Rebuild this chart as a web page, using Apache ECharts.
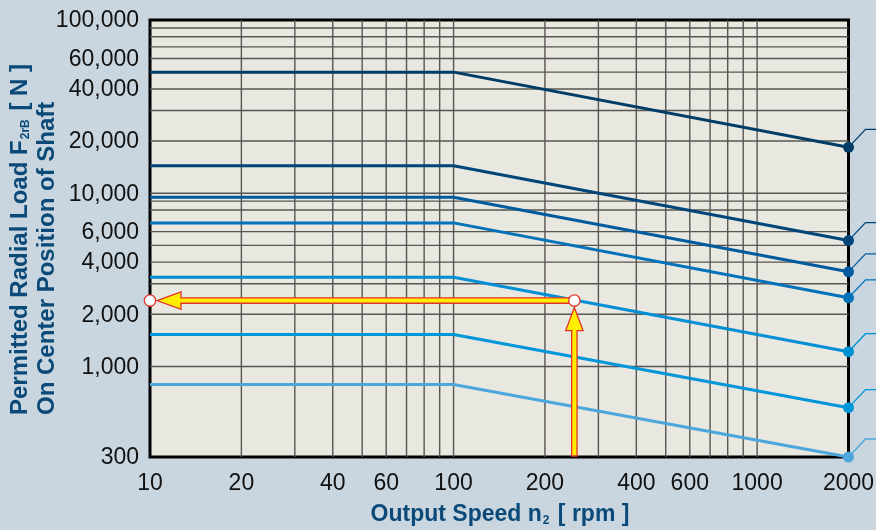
<!DOCTYPE html>
<html><head><meta charset="utf-8">
<script src="https://cdn.jsdelivr.net/npm/echarts@6/dist/echarts.min.js"></script>
<style>html,body{margin:0;padding:0;background:#c9d6e0}#c{width:876px;height:530px}</style>
</head><body><div id="c"></div>
<script>
// ---- data ----
const speeds = [10, 100, 2000];                       // rpm break points
const loadConstant = [50000, 14400, 9470, 6740, 3275, 1529, 787]; // N, 10..100 rpm
const loadAt2000 = [18400, 5328, 3516, 2490, 1216, 578, 300];     // N at 2000 rpm
const xTickValues = [10, 20, 40, 60, 100, 200, 400, 600, 1000, 2000];
const xTickLabels = ['10', '20', '40', '60', '100', '200', '400', '600', '1000', '2000'];
const yTickValues = [100000, 60000, 40000, 20000, 10000, 6000, 4000, 2000, 1000, 300];
const yTickLabels = ['100,000', '60,000', '40,000', '20,000', '10,000', '6,000', '4,000', '2,000', '1,000', '300'];
const xGridValues = [20, 30, 40, 50, 60, 70, 80, 90, 100, 200, 300, 400, 500, 600, 700, 800, 900, 1000];
const yGridValues = [1000, 2000, 3000, 4000, 5000, 6000, 8000, 9000, 10000, 20000, 30000, 40000, 50000, 60000, 70000, 80000, 90000];
const exampleSpeed = 250;
const exampleLoad = 2400;

// ---- styles ----
const lineColors = ['#003d66', '#00467a', '#005c9e', '#0072b9', '#008fd4', '#0096da', '#4ca7dc'];
const FONT = '"Liberation Sans", Arial, Helvetica, sans-serif';
const TITLE_COLOR = '#0b4a78';
const X_MIN = 10, X_MAX = 2000, Y_MIN = 300, Y_MAX = 100000;

const chart = echarts.init(document.getElementById('c'));

const gridSeries = {
  type: 'custom', z: 1, silent: true, clip: false, animation: false,
  data: xGridValues.map(v => [v, Y_MIN, 0]).concat(yGridValues.map(v => [X_MIN, v, 1])),
  renderItem(params, api) {
    let a, b;
    if (api.value(2) === 0) { a = api.coord([api.value(0), Y_MIN]); b = api.coord([api.value(0), Y_MAX]); }
    else { a = api.coord([X_MIN, api.value(1)]); b = api.coord([X_MAX, api.value(1)]); }
    return { type: 'line', shape: { x1: a[0], y1: a[1], x2: b[0], y2: b[1] }, style: { stroke: '#585652', lineWidth: 1.4 } };
  }
};

const labelSeries = {
  type: 'custom', z: 6, silent: true, clip: false, animation: false,
  data: xTickValues.map((v, i) => [v, Y_MIN, 0, i]).concat(yTickValues.map((v, i) => [X_MIN, v, 1, i])),
  renderItem(params, api) {
    const kind = api.value(2), i = api.value(3);
    const c = api.coord([api.value(0), api.value(1)]);
    if (kind === 0) {
      return { type: 'text', x: c[0], y: c[1] + 27, style: { text: xTickLabels[i], font: '23px ' + FONT, fill: '#111', align: 'center', verticalAlign: 'middle' } };
    }
    return { type: 'text', x: c[0] - 11, y: c[1] + 1, style: { text: yTickLabels[i], font: '23px ' + FONT, fill: '#111', align: 'right', verticalAlign: 'middle' } };
  }
};

const leaderSeries = {
  type: 'custom', z: 2, silent: true, clip: false, animation: false,
  data: loadAt2000.map((v, i) => [speeds[2], v, i]),
  renderItem(params, api) {
    const c = api.coord([api.value(0), api.value(1)]);
    const i = api.value(2);
    return { type: 'polyline', shape: { points: [[c[0], c[1]], [c[0] + 17, c[1] - 18], [c[0] + 40, c[1] - 18]] },
      style: { stroke: lineColors[i], lineWidth: 1.3, fill: null } };
  }
};

const lineSeries = loadConstant.map((v, i) => ({
  type: 'line', z: 3, silent: true, animation: false, clip: false,
  symbol: 'circle', symbolSize: 11,
  lineStyle: { color: lineColors[i], width: 3 },
  itemStyle: { color: lineColors[i] },
  data: [
    { value: [speeds[0], v], symbol: 'none' },
    { value: [speeds[1], v], symbol: 'none' },
    { value: [speeds[2], loadAt2000[i]] }
  ]
}));

const arrowSeries = {
  type: 'custom', z: 5, silent: true, clip: false, animation: false,
  data: [[exampleSpeed, exampleLoad]],
  renderItem(params, api) {
    const p = api.coord([api.value(0), api.value(1)]);
    const l = api.coord([X_MIN, api.value(1)]);
    const b = api.coord([api.value(0), Y_MIN]);
    const red = '#e2332a', yellow = '#ffee00';
    const hw = 2.7, ah = 8.7;
    const vArrow = [[p[0], p[1] + 7], [p[0] + ah, p[1] + 30], [p[0] + hw, p[1] + 30], [p[0] + hw, b[1] - 1], [p[0] - hw, b[1] - 1], [p[0] - hw, p[1] + 30], [p[0] - ah, p[1] + 30]];
    const hArrow = [[l[0] + 7, p[1]], [l[0] + 31, p[1] - ah], [l[0] + 31, p[1] - hw], [p[0] - 4, p[1] - hw], [p[0] - 4, p[1] + hw], [l[0] + 31, p[1] + hw], [l[0] + 31, p[1] + ah]];
    return { type: 'group', children: [
      { type: 'polygon', shape: { points: vArrow }, style: { fill: yellow, stroke: red, lineWidth: 1.3 } },
      { type: 'polygon', shape: { points: hArrow }, style: { fill: yellow, stroke: red, lineWidth: 1.3 } },
      { type: 'circle', shape: { cx: p[0], cy: p[1], r: 5.7 }, style: { fill: '#fff', stroke: red, lineWidth: 1.3 } },
      { type: 'circle', shape: { cx: l[0], cy: p[1], r: 5.7 }, style: { fill: '#fff', stroke: red, lineWidth: 1.3 } }
    ] };
  }
};

const hiddenAxis = { axisLine: { show: false }, axisTick: { show: false }, axisLabel: { show: false }, splitLine: { show: false } };

chart.setOption({
  backgroundColor: '#c9d6e0',
  animation: false,
  grid: { left: 150, right: 27.5, top: 20, bottom: 73, show: true, backgroundColor: '#e8e7e0', borderColor: '#000', borderWidth: 3 },
  xAxis: Object.assign({ type: 'log', logBase: 10, min: X_MIN, max: X_MAX }, hiddenAxis),
  yAxis: Object.assign({ type: 'log', logBase: 10, min: Y_MIN, max: Y_MAX }, hiddenAxis),
  graphic: [
    { type: 'text', x: 20, y: 415, rotation: Math.PI / 2, silent: true,
      style: { text: 'Permitted Radial Load F{sub|2rB} [ N ]', fontFamily: FONT, fontSize: 24, fontWeight: 'bold', fill: TITLE_COLOR,
        align: 'left', verticalAlign: 'middle',
        rich: { sub: { fontFamily: FONT, fontSize: 12, fontWeight: 'bold', fill: TITLE_COLOR, verticalAlign: 'bottom', lineHeight: 14, padding: [0, 2, 0, 1] } } } },
    { type: 'text', x: 47, y: 415, rotation: Math.PI / 2, silent: true,
      style: { text: 'On Center Position of Shaft', fontFamily: FONT, fontSize: 24, fontWeight: 'bold', fill: TITLE_COLOR, align: 'left', verticalAlign: 'middle' } },
    { type: 'text', x: 500, y: 515, silent: true,
      style: { text: 'Output Speed n{sub|2} [ rpm ]', fontFamily: FONT, fontSize: 23, fontWeight: 'bold', fill: TITLE_COLOR, align: 'center', verticalAlign: 'middle',
        rich: { sub: { fontFamily: FONT, fontSize: 12, fontWeight: 'bold', fill: TITLE_COLOR, verticalAlign: 'bottom', lineHeight: 14, padding: [0, 2, 0, 1] } } } }
  ],
  series: [gridSeries, leaderSeries].concat(lineSeries, [arrowSeries, labelSeries])
});
</script>
</body></html>
